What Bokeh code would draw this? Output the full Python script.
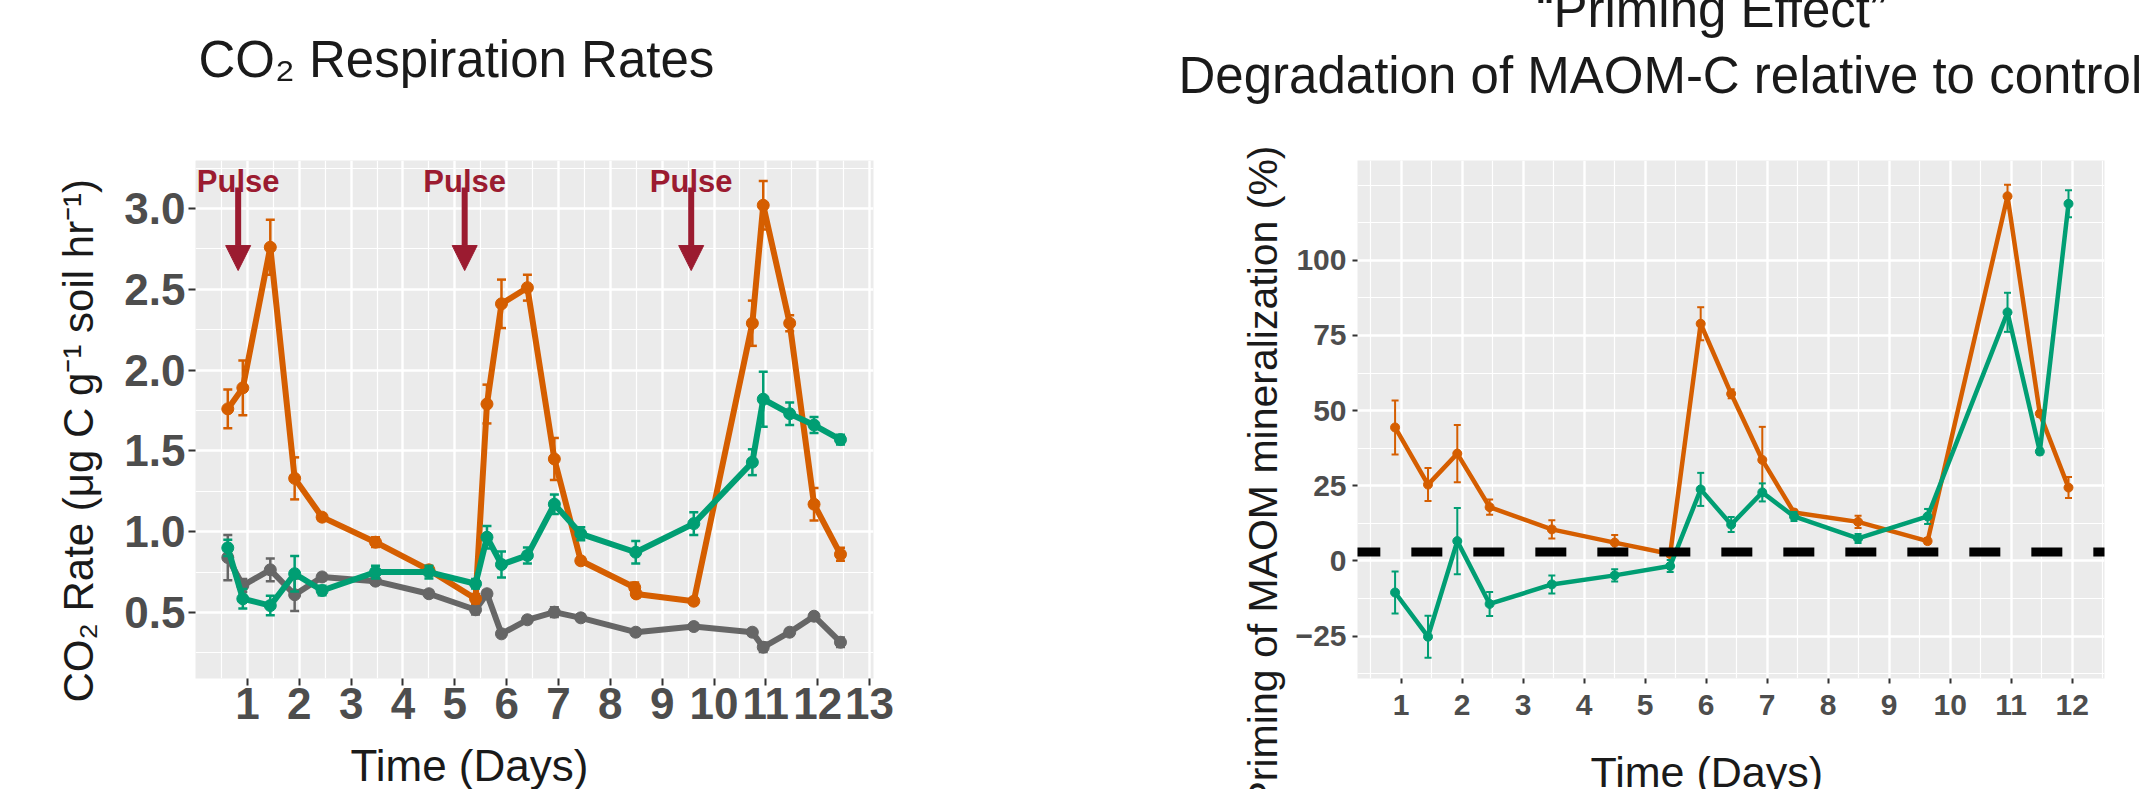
import numpy as np
from bokeh.plotting import figure
from bokeh.layouts import row
from bokeh.models import (Range1d, FixedTicker, PrintfTickFormatter, Label, Arrow,
                          NormalHead, ColumnDataSource, Title, LinearAxis)
from bokeh.embed import file_html
from bokeh.resources import INLINE

# ---------------- data: CO2 respiration rates ----------------
days_control = [0.62, 0.91, 1.44, 1.91, 2.44, 3.47, 4.50, 5.40, 5.62, 5.90, 6.40,
                6.92, 7.43, 8.49, 9.61, 10.74, 10.95, 11.46, 11.93, 12.44]
rate_control = [0.84, 0.667, 0.764, 0.61, 0.72, 0.694, 0.616, 0.517, 0.616, 0.368, 0.455,
                0.502, 0.467, 0.378, 0.413, 0.378, 0.285, 0.378, 0.477, 0.316]
err_control = [0.14, 0.04, 0.07, 0.10, 0.02, 0.02, 0.02, 0.03, 0.02, 0.02, 0.02,
               0.03, 0.02, 0.02, 0.02, 0.02, 0.03, 0.02, 0.02, 0.03]

days_orange = [0.62, 0.91, 1.44, 1.91, 2.44, 3.47, 4.50, 5.40, 5.62, 5.90, 6.40,
               6.92, 7.43, 8.47, 8.50, 9.61, 10.74, 10.95, 11.46, 11.93, 12.44]
rate_orange = [1.76, 1.89, 2.76, 1.33, 1.09, 0.935, 0.764, 0.585, 1.79, 2.41, 2.51,
               1.45, 0.82, 0.655, 0.615, 0.57, 2.29, 3.02, 2.29, 1.17, 0.86]
err_orange = [0.12, 0.17, 0.17, 0.13, 0.02, 0.03, 0.02, 0.03, 0.12, 0.15, 0.08,
              0.13, 0.02, 0.03, 0.02, 0.02, 0.14, 0.15, 0.05, 0.10, 0.04]

days_green = [0.62, 0.91, 1.44, 1.91, 2.44, 3.47, 4.50, 5.40, 5.62, 5.90, 6.40,
              6.92, 7.43, 8.49, 9.61, 10.74, 10.95, 11.46, 11.93, 12.44]
rate_green = [0.90, 0.585, 0.543, 0.74, 0.636, 0.75, 0.75, 0.678, 0.966, 0.797, 0.853,
              1.17, 0.987, 0.873, 1.05, 1.43, 1.82, 1.73, 1.66, 1.57]
err_green = [0.05, 0.06, 0.06, 0.11, 0.03, 0.04, 0.04, 0.03, 0.07, 0.08, 0.05,
             0.06, 0.04, 0.07, 0.07, 0.08, 0.17, 0.07, 0.05, 0.03]

pulse_days = [0.82, 5.19, 9.56]

co2_xticks = list(range(1, 14))
co2_yticks = [0.5, 1.0, 1.5, 2.0, 2.5, 3.0]

# ---------------- data: priming effect ----------------
pe_days = [0.90, 1.44, 1.92, 2.45, 3.47, 4.50, 5.41, 5.91, 6.41, 6.92, 7.44,
           8.49, 9.63, 10.94, 11.47, 11.94]
pe_orange = [44.4, 25.4, 35.7, 17.9, 10.5, 6.1, 2.3, 78.9, 55.6, 33.6, 16.1,
             13.0, 6.6, 121.3, 49.0, 24.4]
pe_orange_err = [9.0, 5.5, 9.5, 2.5, 3.0, 2.5, 1.0, 5.5, 1.5, 11.0, 1.0,
                 2.0, 1.0, 3.8, 1.0, 3.5]
pe_green = [-10.5, -25.2, 6.6, -14.3, -7.8, -4.8, -1.7, 23.8, 12.1, 22.8, 14.8,
            7.5, 14.8, 82.7, 36.4, 118.8]
pe_green_err = [7.0, 7.0, 11.0, 4.0, 3.0, 2.0, 2.0, 5.5, 2.5, 3.0, 1.5,
                1.5, 2.5, 6.5, 1.0, 4.5]

pe_xticks = list(range(1, 13))
pe_yticks = [-25, 0, 25, 50, 75, 100]
pe_ref_y = 3.0
pe_ref_x = [0.15, 12.9]

# ---------------- style ----------------
ORANGE = "#D55E00"
GREEN = "#009E73"
GRAY = "#666666"
PULSE = "#9B1B30"
FONT = "Liberation Sans"
TXT = "#1A1A1A"
TICKTXT = "#4D4D4D"


def style(p, tick_size, tick_out, label_standoff_x, label_standoff_y):
    p.background_fill_color = "#EBEBEB"
    p.border_fill_color = "white"
    p.outline_line_color = None
    for g in (p.xgrid[0], p.ygrid[0]):
        g.grid_line_color = "white"
        g.grid_line_width = 2.4
        g.minor_grid_line_color = "white"
        g.minor_grid_line_width = 1.2
    for ax in (p.xaxis[0], p.yaxis[0]):
        ax.axis_line_color = None
        ax.major_tick_line_color = "#333333"
        ax.major_tick_line_width = 2
        ax.major_tick_out = tick_out
        ax.major_tick_in = 0
        ax.minor_tick_line_color = None
        ax.major_label_text_font = FONT
        ax.major_label_text_font_style = "bold"
        ax.major_label_text_font_size = tick_size
        ax.major_label_text_color = TICKTXT
    p.xaxis[0].major_label_standoff = label_standoff_x
    p.yaxis[0].major_label_standoff = label_standoff_y


def series(p, x, y, e, color, lw, ms, ew, cap):
    src = ColumnDataSource(dict(x=x, y=y, lo=[a - b for a, b in zip(y, e)],
                                hi=[a + b for a, b in zip(y, e)]))
    p.segment(x0="x", y0="lo", x1="x", y1="hi", source=src, line_color=color, line_width=ew)
    p.scatter(x="x", y="lo", source=src, marker="dash", size=cap, line_color=color, line_width=ew)
    p.scatter(x="x", y="hi", source=src, marker="dash", size=cap, line_color=color, line_width=ew)
    p.line(x="x", y="y", source=src, line_color=color, line_width=lw, line_join="round")
    p.scatter(x="x", y="y", source=src, marker="circle", size=ms, fill_color=color, line_color=color)


def spacer(p, side, px, at):
    # blank axis (white tick on white border, no labels) that only reserves space
    ax = LinearAxis(ticker=FixedTicker(ticks=[at]), major_tick_out=px, major_tick_in=0,
                    major_tick_line_color="white", major_tick_line_width=1,
                    major_label_standoff=0, major_label_text_font_size="0px",
                    major_label_text_color=None, axis_line_color=None,
                    minor_tick_line_color=None)
    p.add_layout(ax, side)


def title(p, side, text, size, align, offset, valign, standoff):
    p.add_layout(Title(text=text, align=align, offset=offset, vertical_align=valign,
                       standoff=standoff, text_font=FONT, text_font_size=size,
                       text_font_style="normal", text_color=TXT), side)


# ---------------- left panel ----------------
W1, H = 1138, 789
p1 = figure(width=W1, height=H, min_border_left=195, min_border_right=W1 - 873,
            min_border_top=160, min_border_bottom=H - 678,
            x_range=Range1d(-0.003, 13.077), y_range=Range1d(0.0916, 3.297),
            output_backend="svg", toolbar_location=None)
p1.xaxis.ticker = FixedTicker(ticks=co2_xticks, minor_ticks=[t - 0.5 for t in co2_xticks])
p1.yaxis.ticker = FixedTicker(ticks=co2_yticks,
                              minor_ticks=[t - 0.25 for t in co2_yticks] + [co2_yticks[-1] + 0.25])
p1.yaxis.formatter = PrintfTickFormatter(format="%.1f")
style(p1, "44px", 7, 2, 3)

series(p1, days_control, rate_control, err_control, GRAY, 6, 12, 2.5, 9)
series(p1, days_orange, rate_orange, err_orange, ORANGE, 6, 12, 2.5, 9)
series(p1, days_green, rate_green, err_green, GREEN, 6, 12, 2.5, 9)

for d in pulse_days:
    p1.add_layout(Arrow(x_start=d, y_start=3.13, x_end=d, y_end=2.616,
                        line_color=PULSE, line_width=6,
                        end=NormalHead(size=25, fill_color=PULSE, line_color=PULSE, line_width=1)))
    p1.add_layout(Label(x=d, y=3.17, text="Pulse", text_font=FONT, text_font_style="bold",
                        text_font_size="31px", text_color=PULSE, text_align="center",
                        text_baseline="alphabetic"))

spacer(p1, "above", 73, 0.0)
title(p1, "above", "CO\u2082 Respiration Rates", "51px", "left", 3, "bottom", 0)
title(p1, "left", "CO\u2082 Rate (\u03bcg C g\u207b\u00b9 soil hr\u207b\u00b9)", "42px",
      "left", -24, "bottom", 39)
spacer(p1, "below", 37, 0.0)
title(p1, "below", "Time (Days)", "44px", "left", 155, "bottom", -40)

# ---------------- right panel ----------------
W2 = 2155 - W1
p2 = figure(width=W2, height=H, min_border_left=1357 - W1, min_border_right=2155 - 2104,
            min_border_top=160, min_border_bottom=H - 684,
            x_range=Range1d(0.284, 12.53), y_range=Range1d(-39.1, 133.2),
            output_backend="svg", toolbar_location=None)
p2.xaxis.ticker = FixedTicker(ticks=pe_xticks,
                              minor_ticks=[t - 0.5 for t in pe_xticks] + [pe_xticks[-1] + 0.5])
p2.yaxis.ticker = FixedTicker(ticks=pe_yticks,
                              minor_ticks=[t - 12.5 for t in pe_yticks] + [112.5, 125])
p2.yaxis.major_label_overrides = {t: (str(t) if t >= 0 else "\u2212" + str(-t)) for t in pe_yticks}
style(p2, "30px", 5, 11, 6)

series(p2, pe_days, pe_orange, pe_orange_err, ORANGE, 4.5, 9, 2, 7)
series(p2, pe_days, pe_green, pe_green_err, GREEN, 4.5, 9, 2, 7)

p2.segment(x0=[pe_ref_x[0]], y0=[pe_ref_y], x1=[pe_ref_x[1]], y1=[pe_ref_y],
           line_color="black", line_width=9, line_dash="31 31", line_cap="butt")

spacer(p2, "above", 25, 1.0)
title(p2, "above", "Degradation of MAOM-C relative to control", "51px", "left", -179, "bottom", 64)
title(p2, "above", "\u201cPriming Effect\u201d", "51px", "left", 179, "bottom", -50)
title(p2, "left", "Priming of MAOM mineralization (%)", "41px", "right", -15, "bottom", 13)
spacer(p2, "below", 52, 1.0)
title(p2, "below", "Time (Days)", "43px", "left", 233, "bottom", -52)

layout = row(p1, p2)
open("out.html", "w").write(file_html(layout, INLINE))
